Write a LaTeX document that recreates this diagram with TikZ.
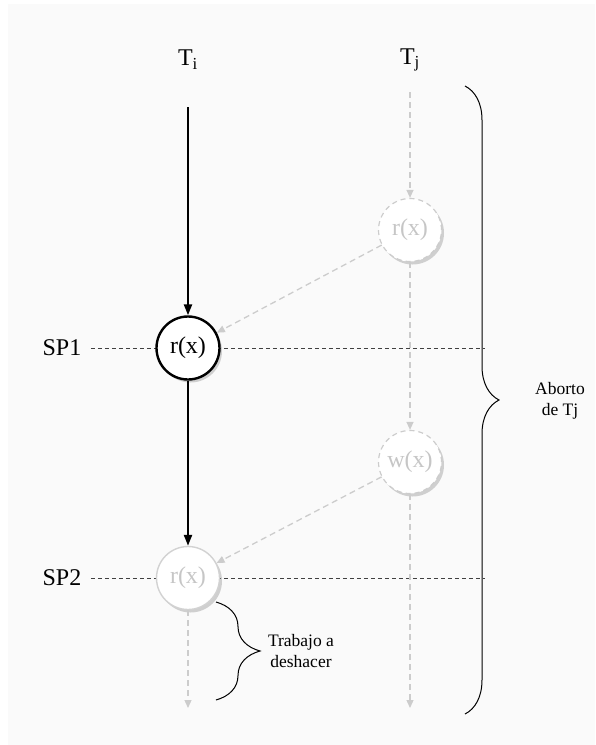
\documentclass[tikz,border=0pt]{standalone}
\usepackage{fontspec}
\setmainfont{Liberation Serif}
\usetikzlibrary{shadows,decorations.pathreplacing,arrows.meta}

\begin{document}
\begin{tikzpicture}[x=1pt,y=-1pt,every node/.style={font=\fontsize{24}{26}\selectfont},
  opnode/.style={circle,minimum size=63pt,inner sep=0pt,fill=white,
    drop shadow={shadow xshift=2.5pt,shadow yshift=-3pt,opacity=0.35}},
  activeop/.style={opnode,draw=black,line width=2.4pt},
  undoneop/.style={opnode,draw=gray!35,line width=1.4pt,text=gray!45},
  abortop/.style={opnode,draw=gray!40,line width=1.2pt,dash pattern=on 5pt off 4pt,text=gray!45},
  tiarrow/.style={line width=2.2pt,-{Triangle[length=11pt,width=8pt]}},
  ghostarrow/.style={draw=gray!40,line width=1.3pt,dash pattern=on 6pt off 4pt,
    -{Triangle[length=8pt,width=7pt]}},
  sepline/.style={draw=black!75,line width=0.9pt,dash pattern=on 4pt off 3pt},
  bracelbl/.style={font=\fontsize{17.5}{21}\selectfont,align=center}]
\useasboundingbox (0,0) rectangle (595,745);
\fill[black!2] (8,4) rectangle (595,745);

% transactions
\node (ti) at (188,60) {T\textsubscript{i}};
\node (tj) at (410,60) {T\textsubscript{j}};
\coordinate (tistart) at (188,107);
\coordinate (tjstart) at (410,92);
\coordinate (tiend) at (188,708);
\coordinate (tjend) at (410,708);

% savepoints
\node (sp1) at (62,348) {SP1};
\node (sp2) at (62,578) {SP2};
\coordinate (sp1end) at (485,348);
\coordinate (sp2end) at (485,578);
\draw[sepline] ([xshift=6pt]sp1.east) -- (sp1end);
\draw[sepline] ([xshift=6pt]sp2.east) -- (sp2end);

% operations
\node[activeop] (rxi) at (188,348) {r(x)};
\node[undoneop] (rxii) at (188,578) {r(x)};
\node[abortop] (rxj) at (410,230) {r(x)};
\node[abortop] (wxj) at (410,462) {w(x)};

\draw[tiarrow] (tistart) -- (rxi);
\draw[tiarrow] (rxi) -- (rxii);
\draw[ghostarrow] (rxii) -- (tiend);
\draw[ghostarrow] (tjstart) -- (rxj);
\draw[ghostarrow] (rxj) -- (wxj);
\draw[ghostarrow] (wxj) -- (tjend);
\draw[ghostarrow] (rxj) -- (rxi);
\draw[ghostarrow] (wxj) -- (rxii);

% braces
\coordinate (abtop) at (465,86);
\coordinate (abbot) at (465,714);
\draw[line width=1pt,decorate,decoration={brace,amplitude=34pt}] (abtop) -- (abbot);
\node[bracelbl] (abort) at (560,401) {Aborto\\de Tj};
\coordinate (undotop) at (216,602);
\coordinate (undobot) at (216,700);
\draw[line width=1pt,decorate,decoration={brace,amplitude=44pt}] (undotop) -- (undobot);
\node[bracelbl] (undo) at (301,651) {Trabajo a\\deshacer};
\end{tikzpicture}
\end{document}
